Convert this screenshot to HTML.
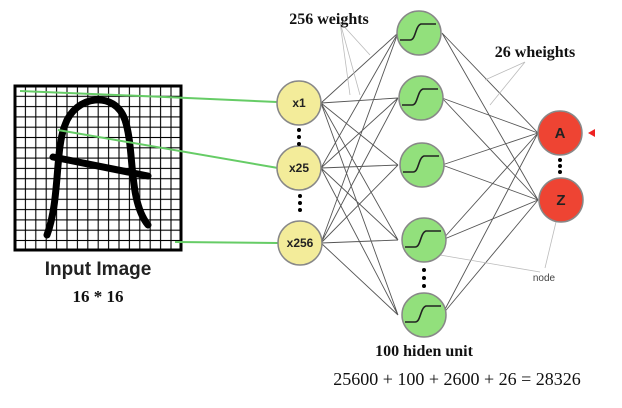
<!DOCTYPE html>
<html><head><meta charset="utf-8"><style>
body{margin:0;background:#fff;width:622px;height:403px;overflow:hidden}
</style></head><body>
<svg width="622" height="403" viewBox="0 0 622 403" xmlns="http://www.w3.org/2000/svg">
<defs>
<pattern id="g" x="15" y="86" width="10.4" height="10.3" patternUnits="userSpaceOnUse">
<rect width="10.4" height="10.3" fill="none" stroke="#000" stroke-width="1.1"/>
</pattern>
</defs>
<rect x="15" y="86" width="166" height="164" fill="#fff"/>
<rect x="15" y="86" width="166" height="164" fill="url(#g)"/>
<rect x="15" y="86" width="166" height="164" fill="none" stroke="#000" stroke-width="3"/>
<path d="M47,235 C60,200 55,150 65,125 C75,95 115,90 125,120 C135,150 128,200 148,225" fill="none" stroke="#000" stroke-width="7" stroke-linecap="round"/>
<path d="M53,157 L148,176" stroke="#000" stroke-width="7" stroke-linecap="round"/>
<g stroke="#6c6" stroke-width="2" fill="none">
<path d="M20,91 L165,97 L277,102"/>
<path d="M58,130 L278,168"/>
<path d="M175,242 L278,243"/>
</g>
<g stroke="#555" stroke-width="0.9">
<path d="M321,103 L398,33 M321,103 L398,98 M321,103 L398,165 M321,103 L398,240 M321,103 L398,315
M321,168 L398,33 M321,168 L398,98 M321,168 L398,165 M321,168 L398,240 M321,168 L398,315
M321,243 L398,33 M321,243 L398,98 M321,243 L398,165 M321,243 L398,240 M321,243 L398,315
M442,33 L538,133 M442,33 L538,200 M442,98 L538,133 M442,98 L538,200 M442,165 L538,133 M442,165 L538,200
M442,240 L538,133 M442,240 L538,200 M442,315 L538,133 M442,315 L538,200"/>
</g>
<g stroke="#bbb" stroke-width="0.8" fill="none">
<path d="M340,22 L370,55 M340,22 L360,95 M340,22 L350,95"/>
<path d="M525,62 L490,105 M525,62 L485,80"/>
<path d="M556,222 L545,268 M440,255 L540,272"/>
</g>
<g stroke="#888" stroke-width="1.5">
<circle cx="299" cy="103" r="22" fill="#f3ec9a"/>
<circle cx="299" cy="168" r="22" fill="#f3ec9a"/>
<circle cx="300" cy="243" r="22" fill="#f3ec9a"/>
<circle cx="419" cy="33" r="22" fill="#92e07c"/>
<circle cx="421" cy="98" r="22" fill="#92e07c"/>
<circle cx="422" cy="165" r="22" fill="#92e07c"/>
<circle cx="424" cy="240" r="22" fill="#92e07c"/>
<circle cx="424" cy="315" r="22" fill="#92e07c"/>
<circle cx="560" cy="133" r="22" fill="#ee4433"/>
<circle cx="561" cy="200" r="22" fill="#ee4433"/>
</g>
<g stroke="#222" stroke-width="1.6" fill="none">
<path d="M400,40 L410,40 C416,40 415,26 421,24 L436,24"/>
<path d="M402,105 L412,105 C418,105 417,91 423,89 L438,89"/>
<path d="M403,172 L413,172 C419,172 418,158 424,156 L439,156"/>
<path d="M405,247 L415,247 C421,247 420,233 426,231 L441,231"/>
<path d="M405,322 L415,322 C421,322 420,308 426,306 L441,306"/>
</g>
<g fill="#000">
<circle cx="299" cy="130" r="2"/><circle cx="299" cy="137" r="2"/><circle cx="299" cy="144" r="2"/>
<circle cx="300" cy="196" r="2"/><circle cx="300" cy="203" r="2"/><circle cx="300" cy="210" r="2"/>
<circle cx="424" cy="270" r="2"/><circle cx="424" cy="278" r="2"/><circle cx="424" cy="286" r="2"/>
<circle cx="560" cy="160" r="2"/><circle cx="560" cy="166" r="2"/><circle cx="560" cy="172" r="2"/>
</g>
<path d="M588,133 L595,129 L595,137 Z" fill="#e22"/>
<g font-family="Liberation Sans, sans-serif" font-weight="bold" text-anchor="middle" fill="#222">
<text x="299" y="107" font-size="12">x1</text>
<text x="299" y="172" font-size="12">x25</text>
<text x="300" y="247" font-size="12">x256</text>
<text x="560" y="138" font-size="15">A</text>
<text x="561" y="205" font-size="15">Z</text>
<text x="98" y="275" font-size="19">Input Image</text>
</g>
<text x="544" y="281" font-family="Liberation Sans, sans-serif" font-size="10" fill="#444" text-anchor="middle">node</text>
<g font-family="Liberation Serif, serif" font-weight="bold" fill="#111" text-anchor="middle">
<text x="98" y="302" font-size="17">16 * 16</text>
<text x="329" y="24" font-size="16">256 weights</text>
<text x="535" y="57" font-size="16">26 wheights</text>
<text x="424" y="356" font-size="16">100 hiden unit</text>
</g>
<text x="457" y="385" font-family="Liberation Serif, serif" font-size="18" fill="#111" text-anchor="middle">25600  + 100  + 2600 + 26 = 28326</text>
</svg>
</body></html>
